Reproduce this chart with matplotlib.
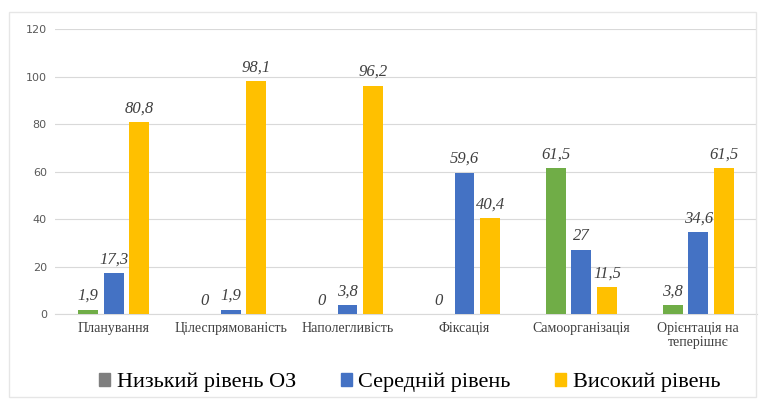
import matplotlib
matplotlib.use('Agg')
import matplotlib.pyplot as plt
from matplotlib.patches import Patch, Rectangle
import numpy as np

categories = ["Планування", "Цілеспрямованість", "Наполегливість",
              "Фіксація", "Самоорганізація", "Орієнтація на\nтеперішнє"]
low = [1.9, 0, 0, 0, 61.5, 3.8]
mid = [17.3, 1.9, 3.8, 59.6, 27, 34.6]
high = [80.8, 98.1, 96.2, 40.4, 11.5, 61.5]
series_names = ["Низький рівень ОЗ", "Середній рівень", "Високий рівень"]
y_ticks = [0, 20, 40, 60, 80, 100, 120]

COLORS = ["#70AD47", "#4472C4", "#FFC000"]
LEGEND_COLORS = ["#7F7F7F", "#4472C4", "#FFC000"]
SERIF = ["Liberation Serif", "DejaVu Serif"]

fig = plt.figure(figsize=(7.66, 4.09), dpi=100)
ax = fig.add_axes([0.072, 0.232, 0.916, 0.697])

# faint frame round the chart, like the scanned original
fig.patches.append(Rectangle((0.012, 0.03), 0.975, 0.94, transform=fig.transFigure,
                             fill=False, edgecolor="#e6e6e6", linewidth=1))

x = np.arange(len(categories))
width = 0.17
step = 0.22

for i, (vals, color) in enumerate(zip([low, mid, high], COLORS)):
    pos = x + (i - 1) * step
    ax.bar(pos, vals, width=width, color=color, zorder=3)
    for p, v in zip(pos, vals):
        txt = f"{v:g}".replace(".", ",")
        ax.annotate(txt, (p, v), textcoords="offset points", xytext=(0, 4),
                    ha="center", va="bottom", fontsize=12, style="italic",
                    family=SERIF, color="#404040")

ax.set_xlim(-0.5, len(categories) - 0.5)
ax.set_ylim(0, 120)
ax.set_yticks(y_ticks)
ax.set_yticklabels([str(t) for t in y_ticks], fontsize=8, color="#595959")
ax.set_xticks(x)
ax.set_xticklabels(categories, fontsize=10, family=SERIF, color="#404040",
                   linespacing=1.1)
ax.tick_params(length=0, pad=6)
ax.yaxis.grid(True, color="#d9d9d9", linewidth=0.8, zorder=0)
for s in ["top", "right", "left"]:
    ax.spines[s].set_visible(False)
ax.spines["bottom"].set_color("#d9d9d9")

handles = [Patch(color=c) for c in LEGEND_COLORS]
fig.legend(handles, series_names, loc="center", bbox_to_anchor=(0.535, 0.065),
           ncol=3, frameon=False, handlelength=0.5, handleheight=0.5,
           handletextpad=0.3, columnspacing=2.0,
           prop={"family": SERIF, "size": 16})

plt.savefig("out.png", dpi=100)
plt.close()
